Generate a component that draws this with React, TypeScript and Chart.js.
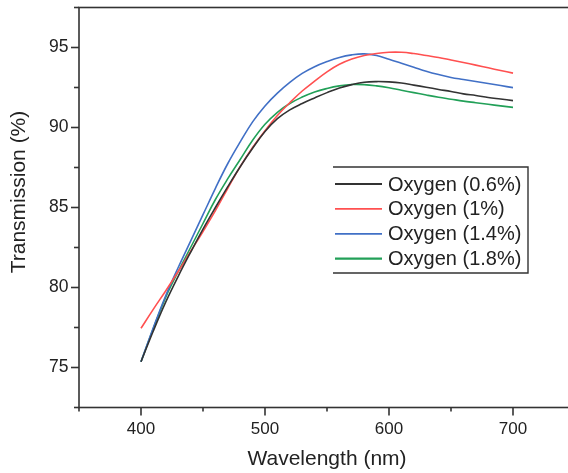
import React, { useEffect, useRef } from "react";
import { Chart, registerables } from "chart.js";

Chart.register(...registerables);

const wavelengths = [400, 410, 420, 430, 440, 450, 460, 470, 480, 490, 500, 510, 520, 530, 540, 550, 560, 570, 580, 590, 600, 610, 620, 630, 640, 650, 660, 670, 680, 690, 700];

const seriesLabels = ["Oxygen (0.6%)", "Oxygen (1%)", "Oxygen (1.4%)", "Oxygen (1.8%)"];

const oxygen06 = [75.36, 77.3, 79.1, 80.7, 82.2, 83.65, 85.0, 86.3, 87.55, 88.7, 89.75, 90.55, 91.1, 91.5, 91.85, 92.18, 92.47, 92.68, 92.83, 92.87, 92.85, 92.78, 92.65, 92.52, 92.38, 92.25, 92.1, 92.0, 91.88, 91.78, 91.68];
const oxygen1 = [77.45, 78.65, 79.8, 81.0, 82.25, 83.5, 84.8, 86.2, 87.55, 88.75, 89.8, 90.75, 91.55, 92.28, 92.9, 93.48, 93.95, 94.28, 94.5, 94.63, 94.7, 94.7, 94.62, 94.5, 94.38, 94.22, 94.06, 93.9, 93.73, 93.56, 93.4];
const oxygen14 = [75.36, 77.5, 79.5, 81.25, 82.9, 84.55, 86.2, 87.75, 89.1, 90.35, 91.35, 92.15, 92.82, 93.38, 93.8, 94.12, 94.38, 94.54, 94.6, 94.5, 94.27, 94.02, 93.77, 93.52, 93.31, 93.13, 93.0, 92.87, 92.75, 92.62, 92.49];
const oxygen18 = [75.36, 77.45, 79.4, 81.0, 82.5, 84.0, 85.5, 86.8, 88.0, 89.2, 90.2, 90.95, 91.5, 91.9, 92.22, 92.44, 92.6, 92.69, 92.68, 92.6, 92.48, 92.33, 92.18, 92.03, 91.89, 91.77, 91.65, 91.55, 91.45, 91.35, 91.26];

const xTickLabels = [400, 500, 600, 700];
const yTickLabels = [75, 80, 85, 90, 95];

const seriesValues = [oxygen06, oxygen1, oxygen14, oxygen18];
const seriesColors = ["#333333", "#ff5050", "#4170c6", "#22a058"];

const FONT = "'Liberation Sans', Arial, Helvetica, sans-serif";
const AXIS_COLOR = "#333333";
const TEXT_COLOR = "#222222";

const framePlugin = {
  id: "frameAndLegend",
  afterDraw(chart: any) {
    const ctx = chart.ctx as CanvasRenderingContext2D;
    const area = chart.chartArea;
    const xs = chart.scales.x;
    const ys = chart.scales.y;
    ctx.save();
    ctx.strokeStyle = AXIS_COLOR;
    ctx.lineWidth = 1.6;
    ctx.strokeRect(area.left, area.top, area.right - area.left, area.bottom - area.top);

    ys.ticks.forEach((t: any) => {
      const py = ys.getPixelForValue(t.value);
      const major = t.value % 5 === 0;
      const len = major ? 8 : 5;
      ctx.beginPath();
      ctx.moveTo(area.left - len, py);
      ctx.lineTo(area.left, py);
      ctx.stroke();
    });
    xs.ticks.forEach((t: any) => {
      const px = xs.getPixelForValue(t.value);
      const major = t.value % 100 === 0;
      const len = major ? 8 : 4;
      ctx.beginPath();
      ctx.moveTo(px, area.bottom);
      ctx.lineTo(px, area.bottom + len);
      ctx.stroke();
    });

    ctx.fillStyle = TEXT_COLOR;
    ctx.font = `21px ${FONT}`;
    ctx.textAlign = "center";
    ctx.textBaseline = "middle";
    ctx.fillText("Wavelength (nm)", (area.left + area.right) / 2, 459);
    ctx.save();
    ctx.translate(19, 192);
    ctx.rotate(-Math.PI / 2);
    ctx.fillText("Transmission (%)", 0, 0);
    ctx.restore();

    const bx0 = 333, bx1 = 528, by0 = 167, by1 = 273;
    ctx.strokeStyle = AXIS_COLOR;
    ctx.lineWidth = 1.4;
    ctx.beginPath();
    ctx.moveTo(bx0, by0);
    ctx.lineTo(bx1, by0);
    ctx.lineTo(bx1, by1);
    ctx.lineTo(bx0, by1);
    ctx.stroke();
    ctx.font = `20px ${FONT}`;
    ctx.textAlign = "left";
    chart.data.datasets.forEach((ds: any, i: number) => {
      const cy = 184 + i * 24.9;
      ctx.strokeStyle = ds.borderColor;
      ctx.lineWidth = i === 3 ? 2.2 : 1.8;
      ctx.beginPath();
      ctx.moveTo(335, cy);
      ctx.lineTo(382, cy);
      ctx.stroke();
      ctx.fillStyle = TEXT_COLOR;
      ctx.fillText(ds.label, 388, cy + 1);
    });
    ctx.restore();
  },
};

export default function App() {
  const canvasRef = useRef<HTMLCanvasElement | null>(null);

  useEffect(() => {
    if (!canvasRef.current) return;
    const datasets = seriesLabels.map((label, i) => ({
      label,
      data: wavelengths.map((w, j) => ({ x: w, y: seriesValues[i][j] })),
      borderColor: seriesColors[i],
      backgroundColor: seriesColors[i],
      borderWidth: 1.6,
      pointRadius: 0,
      tension: 0.4,
      fill: false,
    }));
    const chart = new Chart(canvasRef.current, {
      type: "line",
      data: { datasets },
      options: {
        animation: false,
        responsive: false,
        layout: { padding: { top: 7.5, right: 45, left: 0, bottom: 0 } },
        plugins: { legend: { display: false }, tooltip: { enabled: false } },
        scales: {
          x: {
            type: "linear",
            min: 350,
            max: 750,
            grid: { display: false, drawTicks: false },
            border: { display: false },
            ticks: {
              stepSize: 50,
              autoSkip: false,
              maxRotation: 0,
              padding: 12,
              color: TEXT_COLOR,
              font: { family: FONT, size: 17 },
              callback: (v: any) => (xTickLabels.includes(Number(v)) ? String(v) : ""),
            },
            afterFit: (s: any) => {
              s.height = 65.5;
              s.paddingLeft = 0;
              s.paddingRight = 0;
            },
          },
          y: {
            type: "linear",
            min: 72.5,
            max: 97.5,
            grid: { display: false, drawTicks: false },
            border: { display: false },
            ticks: {
              stepSize: 2.5,
              autoSkip: false,
              padding: 10.5,
              color: TEXT_COLOR,
              font: { family: FONT, size: 17.5 },
              callback: (v: any) => (yTickLabels.includes(Number(v)) ? String(v) : ""),
            },
            afterFit: (s: any) => {
              s.width = 79;
              s.paddingTop = 0;
              s.paddingBottom = 0;
            },
          },
        },
      },
      plugins: [framePlugin],
    });
    return () => chart.destroy();
  }, []);

  return (
    <div style={{ position: "absolute", left: 0, top: 0, width: 568, height: 473, overflow: "hidden", background: "#fff" }}>
      <canvas ref={canvasRef} width={620} height={473} style={{ display: "block" }} />
    </div>
  );
}
